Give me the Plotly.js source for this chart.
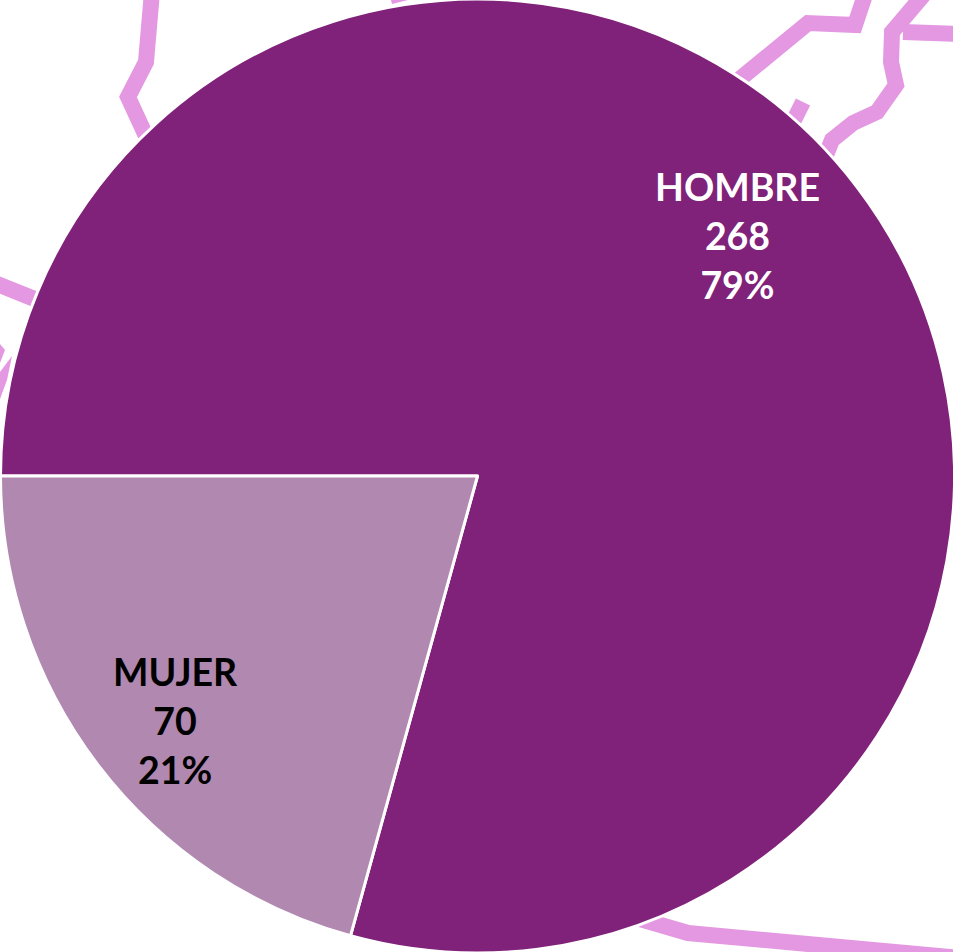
<!DOCTYPE html>
<html>
<head>
<meta charset="utf-8">
<script src="https://cdn.plot.ly/plotly-3.0.1.min.js"></script>
<style>html,body{margin:0;padding:0;background:#fff;overflow:hidden;width:953px;height:952px}#chart{width:955px;height:954px;margin-top:-1px}</style>
</head>
<body>
<div id="chart"></div>
<script>
var categories = ['HOMBRE', 'MUJER'];
var values = [268, 70];
var sliceColors = ['#80217A', '#B088B0'];
var labelColors = ['#FFFFFF', '#000000'];
var roadColor = '#E398E1';

var roadAX = [735, 744, 808, 855, 866];
var roadAY = [83, 76, 23, 25, -8];
var roadBX = [926, 892, 891, 896, 877, 853, 832, 826];
var roadBY = [-8, 32, 62, 85, 112, 123, 140, 155];
var roadCX = [903, 960];
var roadCY = [32, 34];
var roadDX = [803, 794];
var roadDY = [102, 120];
var roadEX = [152, 146, 128, 146];
var roadEY = [-8, 62, 97, 136];
var roadFX = [-8, 42];
var roadFY = [282, 302];
var roadGX = [640, 688, 960];
var roadGY = [919, 933, 958];
var polyAX = [0, 5, 0];
var polyAY = [344, 350, 363];
var polyBX = [0, 12, 7, 0];
var polyBY = [372, 356, 380, 399];
var polyCX = [391, 408, 392];
var polyCY = [0, 0, 4];

function road(x, y) {
  return {type: 'scatter', mode: 'lines', x: x, y: y, hoverinfo: 'skip', showlegend: false,
    line: {color: roadColor, width: 16, shape: 'linear'}};
}
function patch(x, y) {
  return {type: 'scatter', mode: 'lines', x: x, y: y, fill: 'toself', fillcolor: roadColor,
    hoverinfo: 'skip', showlegend: false, line: {width: 0, color: roadColor}};
}

var total = values.reduce(function (a, b) { return a + b; }, 0);
var labelX = [737, 175];
var labelY = [235, 720];

var traces = [
  road(roadAX, roadAY), road(roadBX, roadBY), road(roadCX, roadCY), road(roadDX, roadDY),
  road(roadEX, roadEY), road(roadFX, roadFY), road(roadGX, roadGY),
  patch(polyAX, polyAY), patch(polyBX, polyBY), patch(polyCX, polyCY),
  {type: 'pie', labels: categories, values: values, sort: false, direction: 'clockwise', rotation: 270,
   textinfo: 'none', hoverinfo: 'label+value+percent', showlegend: false,
   domain: {x: [0, 1], y: [0, 1]},
   marker: {colors: sliceColors, line: {color: '#FFFFFF', width: 3}}}
];

var annotations = categories.map(function (c, i) {
  return {
    xref: 'x', yref: 'y', x: labelX[i], y: labelY[i], showarrow: false, align: 'center',
    text: c + '<br>' + values[i] + '<br>' + Math.round(values[i] / total * 100) + '%',
    font: {family: 'Lato, "Open Sans", sans-serif', size: 37.5, color: labelColors[i], weight: 700}
  };
});

var layout = {
  width: 955, height: 954, margin: {l: 0, r: 0, t: 0, b: 0},
  paper_bgcolor: '#FFFFFF', plot_bgcolor: '#FFFFFF', showlegend: false,
  xaxis: {range: [0, 955], visible: false, fixedrange: true},
  yaxis: {range: [953, -1], visible: false, fixedrange: true},
  annotations: annotations
};
Plotly.newPlot('chart', traces, layout, {displayModeBar: false, staticPlot: true});
</script>
</body>
</html>
